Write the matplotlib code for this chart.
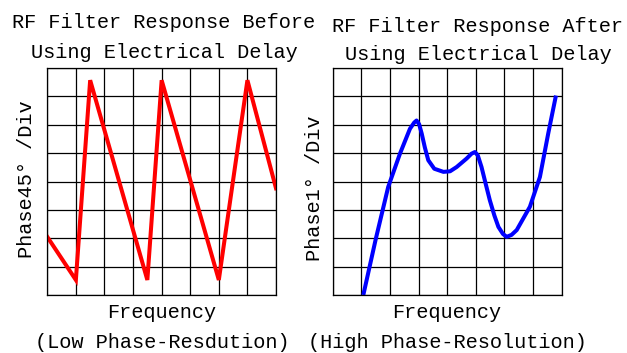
import matplotlib
matplotlib.use("Agg")
import matplotlib.pyplot as plt

# before: sawtooth phase wrapping (grid units, 8x8 divisions)
before_x = [0, 1, 1.5, 3.5, 4, 6, 7, 8]
before_y = [2.05, 0.53, 7.57, 0.53, 7.57, 0.53, 7.57, 3.76]

# after: smooth phase curve (grid units)
after_x = [1.07, 1.5, 1.94, 2.35, 2.70, 2.85, 2.93, 3.02, 3.11, 3.22, 3.34,
           3.55, 3.87, 4.10, 4.33, 4.68, 4.85, 4.97, 5.07, 5.20, 5.35, 5.49,
           5.65, 5.79, 5.95, 6.08, 6.25, 6.43, 6.89, 7.24, 7.53, 7.80]
after_y = [0.0, 1.95, 3.81, 4.98, 5.86, 6.08, 6.15, 6.02, 5.69, 5.20, 4.75,
           4.45, 4.34, 4.36, 4.51, 4.81, 4.98, 5.04, 4.92, 4.51, 3.90, 3.34,
           2.80, 2.40, 2.15, 2.05, 2.12, 2.29, 3.11, 4.16, 5.69, 7.03]

plt.rcParams['font.family'] = ['Liberation Mono', 'DejaVu Sans Mono']
fs = 14.6

fig = plt.figure(figsize=(6.27, 3.53), dpi=100)
ax1 = fig.add_axes([0.0754, 0.1643, 0.3648, 0.643])
ax2 = fig.add_axes([0.5306, 0.1643, 0.3652, 0.643])

for ax in (ax1, ax2):
    ax.set_xlim(0, 8)
    ax.set_ylim(0, 8)
    ax.set_xticks(range(9))
    ax.set_yticks(range(9))
    ax.tick_params(length=0, labelbottom=False, labelleft=False)
    ax.grid(True, color='black', linewidth=0.9)
    for s in ax.spines.values():
        s.set_linewidth(0.9)

ax1.plot(before_x, before_y, color='#ff0000', linewidth=2.9, solid_joinstyle='miter')
ax2.plot(after_x, after_y, color='#0000ff', linewidth=2.9, solid_capstyle='butt')

W, H = 627, 353
def ftext(x, y, s, **kw):
    fig.text(x / W, 1 - y / H, s, ha='center', va='center', fontsize=fs, **kw)

ftext(164, 23, "RF Filter Response Before")
ftext(164, 52, "Using Electrical Delay")
ftext(478, 27, "RF Filter Response After")
ftext(478, 55, "Using Electrical Delay")

ftext(162, 313, "Frequency")
ftext(162, 342, "(Low Phase-Resdution)")
ftext(447, 313, "Frequency")
ftext(447, 342, "(High Phase-Resolution)")

ftext(27, 179, "Phase45° /Div", rotation=90)
ftext(315, 188, "Phase1° /Div", rotation=90)

fig.savefig("out.png", dpi=100)
